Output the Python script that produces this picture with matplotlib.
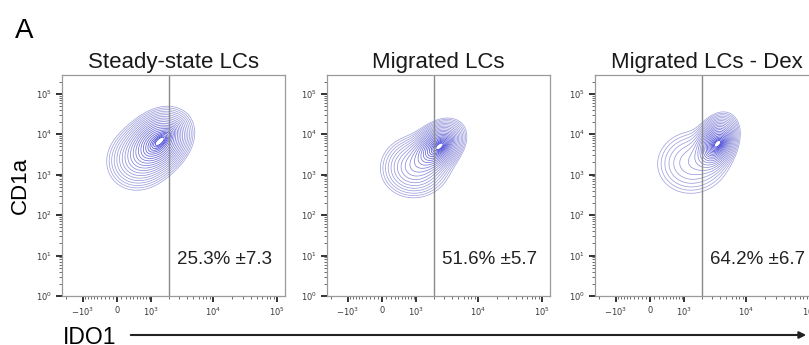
import numpy as np
import matplotlib
matplotlib.use("Agg")
import matplotlib.pyplot as plt
from matplotlib.colors import LinearSegmentedColormap

# Panel text
panel_titles = ["Steady-state LCs", "Migrated LCs", "Migrated LCs - Dex"]
pct_positive = [25.3, 51.6, 64.2]
pct_sd = [7.3, 5.7, 6.7]
gate_ido1 = 2000

# Axis ticks
x_ticks = [-1e3, 0, 1e3, 1e4, 1e5]
x_tick_labels = ["$-10^3$", "0", "$10^3$", "$10^4$", "$10^5$"]
y_ticks = [1e0, 1e1, 1e2, 1e3, 1e4, 1e5]
y_tick_labels = ["$10^0$", "$10^1$", "$10^2$", "$10^3$", "$10^4$", "$10^5$"]

# Sub-populations: centre (IDO1, CD1a), spread
# (arcsinh units on IDO1, decades on CD1a), correlation and relative weight
pop_ido1 = [[1370, 570, 1650], [2330, 970, 2800], [3460, 1400, 3900]]
pop_cd1a = [[6600, 2500, 8000], [5000, 1580, 5600], [6300, 2000, 6000]]
pop_sx = [[0.52, 0.60, 0.28], [0.42, 0.62, 0.22], [0.34, 0.72, 0.22]]
pop_sy = [[0.35, 0.40, 0.18], [0.28, 0.38, 0.14], [0.30, 0.44, 0.15]]
pop_rho = [[0.25, 0.10, 0.80], [0.35, 0.05, 0.70], [0.30, 0.05, 0.70]]
pop_w = [[1.00, 0.30, 0.30], [1.00, 0.35, 0.30], [1.00, 0.20, 0.30]]

W = 643.0  # arcsinh width of the IDO1 axis


def fwd(x):
    return np.arcsinh(np.asarray(x, dtype=float) / W)


def inv(u):
    return W * np.sinh(u)


def density(k, U, V):
    Z = np.zeros_like(U)
    for cx, cy, sx, sy, r, w in zip(pop_ido1[k], pop_cd1a[k], pop_sx[k],
                                    pop_sy[k], pop_rho[k], pop_w[k]):
        du = (U - fwd(cx)) / sx
        dv = (V - np.log10(cy)) / sy
        q = (du**2 - 2 * r * du * dv + dv**2) / (1 - r**2)
        Z += w * np.exp(-0.5 * q)
    return Z


def make_figure():
    fig = plt.figure(figsize=(8.09, 3.45), dpi=100)
    cmap = LinearSegmentedColormap.from_list("flow", ["#a4a4de", "#3a3ad4"])

    u = np.linspace(-2.0, 6.2, 500)
    v = np.linspace(0.0, 5.5, 500)
    U, V = np.meshgrid(u, v)
    X, Y = inv(U), 10**V

    # contour levels evenly spaced in "radius", like probability contours
    radii = np.linspace(2.6, 0.35, 21)
    rel_levels = np.exp(-0.5 * radii**2)

    minor_x = ([-2000] + [-100 * i for i in range(1, 10)] + [100 * i for i in range(1, 10)]
               + [1000 * i for i in range(2, 10)] + [10000 * i for i in range(2, 10)])

    lefts = [62, 327, 595]
    for k, left in enumerate(lefts):
        ax = fig.add_axes([left / 809, 49 / 345, 223 / 809, 221 / 345])
        ax.set_xscale("function", functions=(fwd, inv))
        ax.set_yscale("log")
        ax.set_xlim(-2283, 135000)
        ax.set_ylim(1, 2.9e5)

        Z = density(k, U, V)
        ax.contour(X, Y, Z, levels=rel_levels * Z.max(), cmap=cmap, linewidths=0.55)

        # gate line and percentage
        ax.axvline(gate_ido1, color="#8a8a8a", lw=1.0)
        ax.annotate(f"{pct_positive[k]}% \u00b1{pct_sd[k]}", xy=(gate_ido1, 6.2),
                    xytext=(6, 0), textcoords="offset points", va="baseline",
                    fontsize=13.5, family="Liberation Sans", color="#222222")

        ax.set_title(panel_titles[k], fontsize=16, family="Liberation Sans",
                     pad=5, color="#1a1a1a")

        ax.set_xticks(x_ticks)
        ax.set_xticklabels(x_tick_labels)
        ax.set_xticks(minor_x, minor=True)
        ax.set_yticks(y_ticks)
        ax.set_yticklabels(y_tick_labels)
        ax.tick_params(which="major", length=4, width=1.4, color="#333333",
                       labelsize=6, labelcolor="#3a3a3a", pad=3)
        ax.tick_params(which="minor", length=2, width=0.6, color="#555555")
        for s in ax.spines.values():
            s.set_color("#9a9a9a")
            s.set_linewidth(0.9)

    fig.text(15 / 809, 1 - 38 / 345, "A", fontsize=20, family="Liberation Sans")
    fig.text(20 / 809, 1 - 185 / 345, "CD1a", rotation=90, fontsize=16,
             family="Liberation Sans", ha="center", va="center")
    fig.text(63 / 809, 1 - 344 / 345, "IDO1", fontsize=16.5,
             family="Liberation Sans", va="baseline")
    y_arrow = 1 - 335 / 345
    fig.add_artist(matplotlib.patches.FancyArrowPatch(
        (128 / 809, y_arrow), (809 / 809, y_arrow), transform=fig.transFigure,
        arrowstyle="-|>,head_length=4,head_width=2", color="#222222", lw=1.5))

    fig.savefig("out.png", dpi=100)


if __name__ == "__main__":
    make_figure()
